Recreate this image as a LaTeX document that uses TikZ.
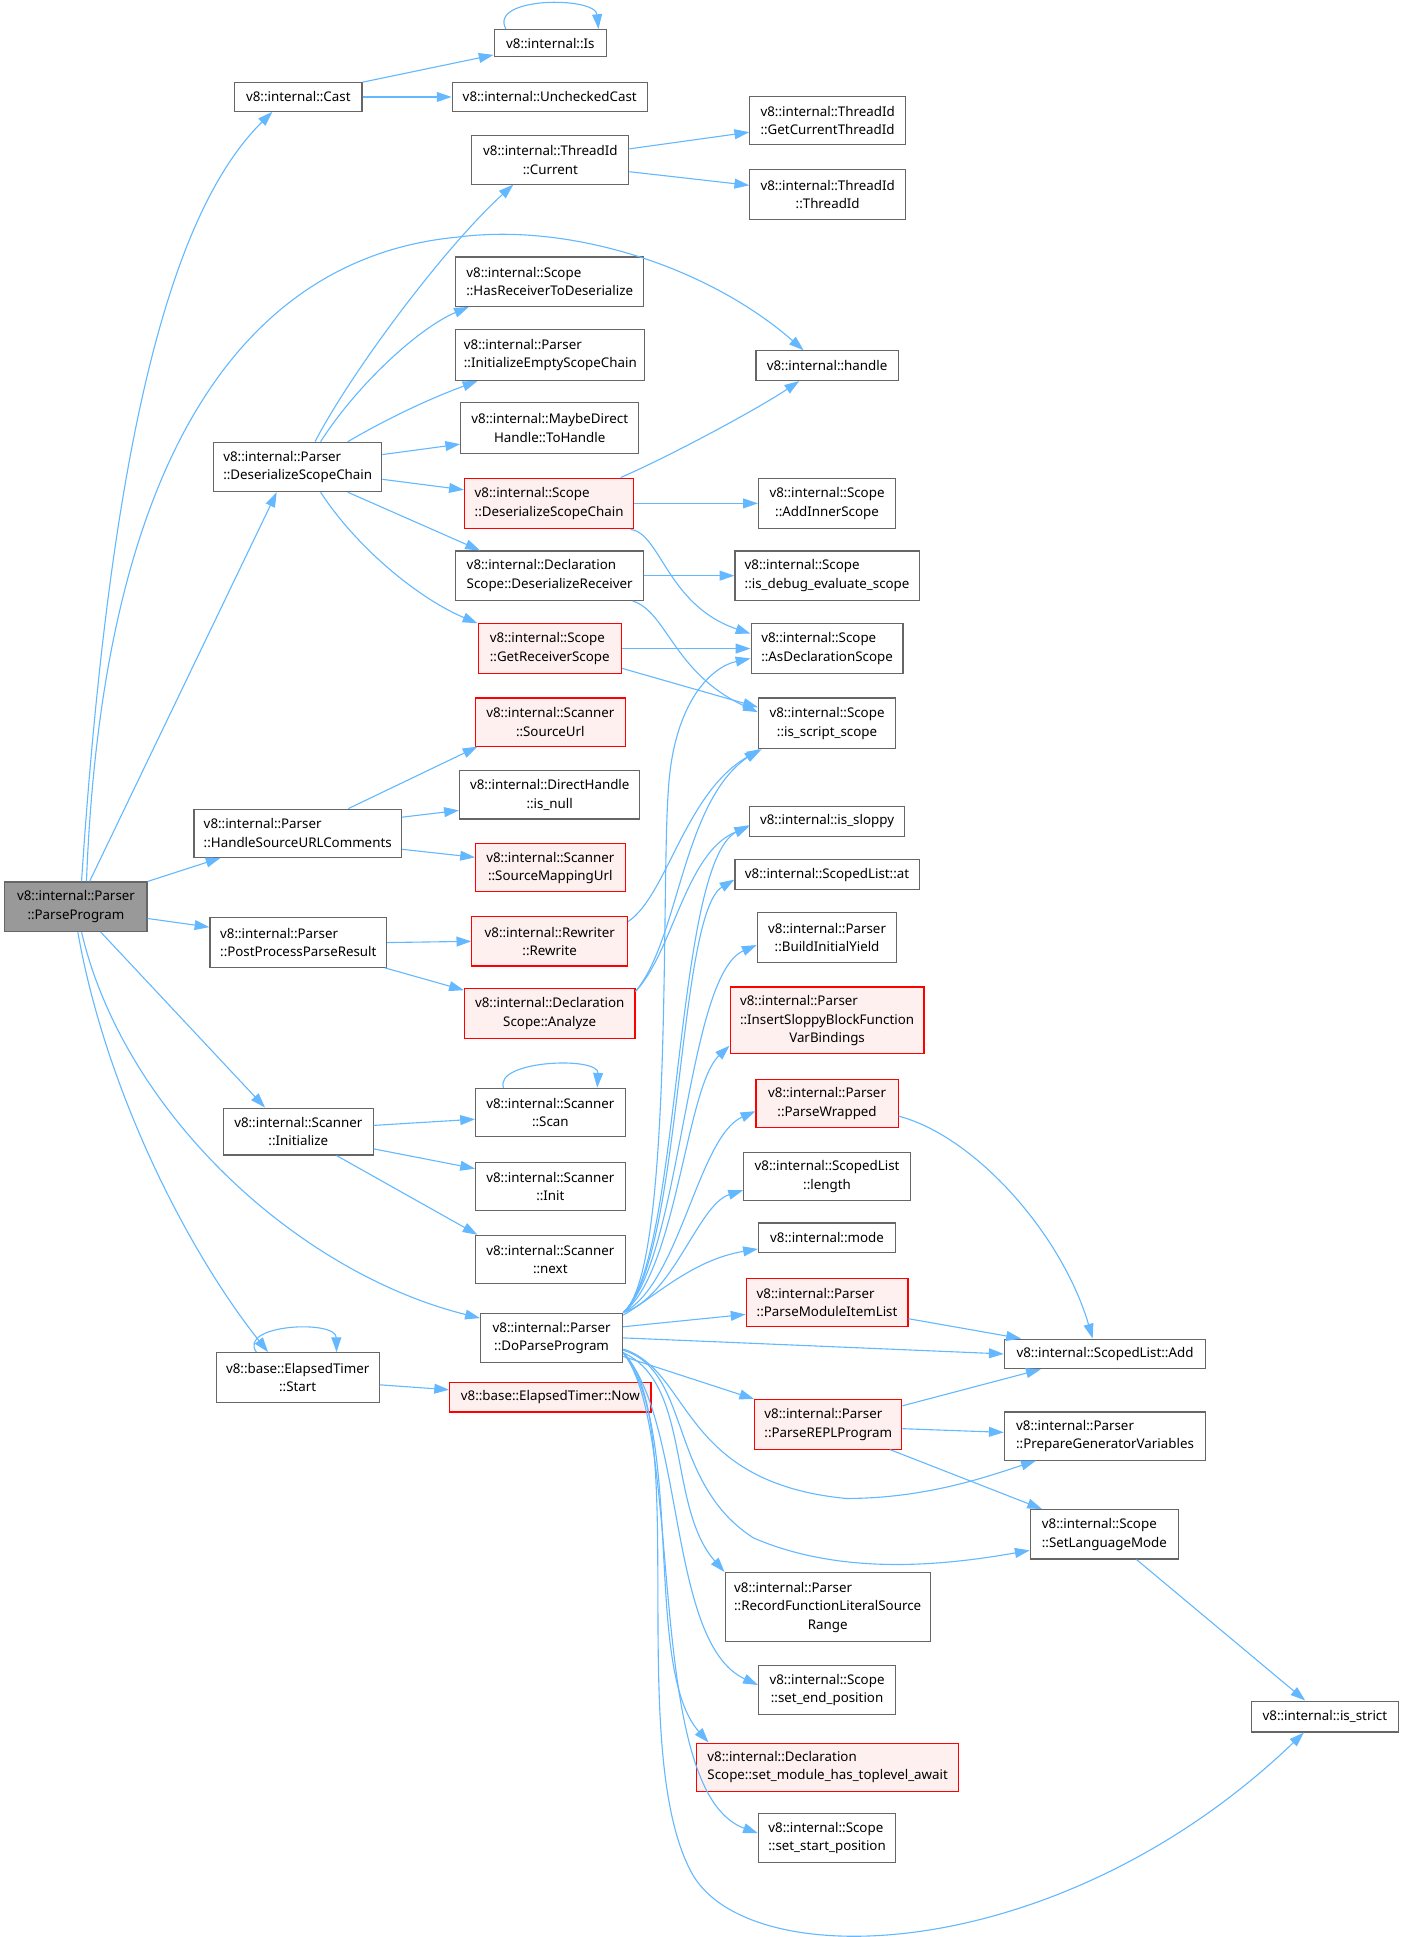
\documentclass[tikz,border=0pt]{standalone}
\usepackage{fontspec}
\setmainfont{Noto Sans}
\usepackage{tikz}
\usetikzlibrary{arrows.meta, positioning, calc}
\definecolor{dxedge}{RGB}{99, 184, 255}
\definecolor{dxframe}{RGB}{102, 102, 102}
\definecolor{dxred}{RGB}{255, 0, 0}
\definecolor{dxpink}{RGB}{255, 240, 240}
\definecolor{dxroot}{RGB}{153, 153, 153}
\newcommand{\tripleline}[3]{\begin{tabular}{@{}l@{}}#1\\#2\\\multicolumn{1}{@{}c@{}}{#3}\end{tabular}}

\begin{document}
\begin{tikzpicture}[
    x=1pt, y=-1pt,
    sz/.style 2 args={minimum width=#1pt, minimum height=#2pt},
    fn/.style={draw=dxframe, fill=white, line width=0.9pt, inner sep=0pt, align=center, font=\fontsize{10.8}{15}\selectfont},
    fnl/.style={fn, align=left},
    fnred/.style={fn, draw=dxred, fill=dxpink},
    fnredl/.style={fnred, align=left},
    fnroot/.style={fn, fill=dxroot},
    calls/.style={draw=dxedge, line width=0.9pt, -{Triangle[length=12pt,width=8pt]}},
]
    \useasboundingbox (0,0) rectangle (1137,1568);

    % Root
    \node[fnroot, sz={115}{40}] (pp) at (61.5,734) {v8::internal::Parser\\::ParseProgram};

    % Column 2: direct callees
    \node[fn, sz={103}{23}] (cast) at (241.5,78.5) {v8::internal::Cast};
    \node[fnl, sz={136}{40}] (pdsc) at (241,378) {v8::internal::Parser\\::DeserializeScopeChain};
    \node[fnl, sz={168}{39}] (hsurl) at (241,674.5) {v8::internal::Parser\\::HandleSourceURLComments};
    \node[fnl, sz={143}{40}] (ppr) at (241.5,763) {v8::internal::Parser\\::PostProcessParseResult};
    \node[fn, sz={121}{38}] (sinit) at (241.5,916) {v8::internal::Scanner\\::Initialize};
    \node[fn, sz={132}{40}] (start) at (241,1115) {v8::base::ElapsedTimer\\::Start};

    % Column 3
    \node[fn, sz={91}{22}] (is) at (445.5,35) {v8::internal::Is};
    \node[fn, sz={158}{23}] (ucast) at (445,78.5) {v8::internal::UncheckedCast};
    \node[fn, sz={127}{39}] (tcur) at (445.5,129.5) {v8::internal::ThreadId\\::Current};
    \node[fnl, sz={152}{40}] (hasrecv) at (445,228) {v8::internal::Scope\\::HasReceiverToDeserialize};
    \node[fnl, sz={153}{41}] (initempty) at (445.5,287.5) {v8::internal::Parser\\::InitializeEmptyScopeChain};
    \node[fn, sz={144}{41}] (tohandle) at (445,346.5) {v8::internal::MaybeDirect\\Handle::ToHandle};
    \node[fnredl, sz={137}{41}] (sdsc) at (444.5,407.5) {v8::internal::Scope\\::DeserializeScopeChain};
    \node[fnl, sz={152}{40}] (dsrecv) at (445,466) {v8::internal::Declaration\\Scope::DeserializeReceiver};
    \node[fnredl, sz={116}{40}] (getrecv) at (445,525) {v8::internal::Scope\\::GetReceiverScope};
    \node[fnred, sz={121}{39}] (srcurl) at (445.5,584.5) {v8::internal::Scanner\\::SourceUrl};
    \node[fn, sz={146}{39}] (isnull) at (445,643.5) {v8::internal::DirectHandle\\::is\_null};
    \node[fnred, sz={121}{39}] (srcmap) at (445.5,702.5) {v8::internal::Scanner\\::SourceMappingUrl};
    \node[fnred, sz={126}{40}] (rewrite) at (445,762) {v8::internal::Rewriter\\::Rewrite};
    \node[fnred, sz={138}{41}] (analyze) at (445,820.5) {v8::internal::Declaration\\Scope::Analyze};
    \node[fn, sz={121}{39}] (scan) at (445.5,900.5) {v8::internal::Scanner\\::Scan};
    \node[fn, sz={121}{39}] (init) at (445.5,960.5) {v8::internal::Scanner\\::Init};
    \node[fn, sz={121}{39}] (next) at (445.5,1019.5) {v8::internal::Scanner\\::next};
    \node[fn, sz={115}{40}] (dpp) at (446.5,1083) {v8::internal::Parser\\::DoParseProgram};
    \node[fnred, sz={163}{24}] (now) at (445.5,1131) {v8::base::ElapsedTimer::Now};

    % Column 4
    \node[fnl, sz={126}{39}] (tget) at (670,97.5) {v8::internal::ThreadId\\::GetCurrentThreadId};
    \node[fn, sz={126}{40}] (tid) at (670,157.5) {v8::internal::ThreadId\\::ThreadId};
    \node[fn, sz={115}{24}] (handle) at (669.5,296) {v8::internal::handle};
    \node[fn, sz={111}{41}] (addinner) at (669.5,407.5) {v8::internal::Scope\\::AddInnerScope};
    \node[fnl, sz={149}{40}] (isdebug) at (669.5,466) {v8::internal::Scope\\::is\_debug\_evaluate\_scope};
    \node[fnl, sz={123}{40}] (asdecl) at (669.5,525) {v8::internal::Scope\\::AsDeclarationScope};
    \node[fn, sz={111}{41}] (isscript) at (669.5,585.5) {v8::internal::Scope\\::is\_script\_scope};
    \node[fn, sz={125}{24}] (issloppy) at (669.5,665) {v8::internal::is\_sloppy};
    \node[fn, sz={149}{24}] (slat) at (669.5,708) {v8::internal::ScopedList::at};
    \node[fn, sz={113}{40}] (yield) at (669.5,759) {v8::internal::Parser\\::BuildInitialYield};
    \node[fnred, sz={157}{54}] (insert) at (669.5,826) {\tripleline{v8::internal::Parser}{::InsertSloppyBlockFunction}{VarBindings}};
    \node[fnred, sz={115}{39}] (pwrap) at (669.5,893.5) {v8::internal::Parser\\::ParseWrapped};
    \node[fn, sz={135}{39}] (length) at (669.5,952.5) {v8::internal::ScopedList\\::length};
    \node[fn, sz={111}{24}] (mode) at (669.5,1002) {v8::internal::mode};
    \node[fnredl, sz={131}{39}] (pmod) at (669.5,1054.5) {v8::internal::Parser\\::ParseModuleItemList};
    \node[fnredl, sz={119}{40}] (repl) at (670.5,1153) {v8::internal::Parser\\::ParseREPLProgram};
    \node[fn, sz={166}{56}] (record) at (670,1301) {\tripleline{v8::internal::Parser}{::RecordFunctionLiteralSource}{Range}};
    \node[fn, sz={111}{40}] (setend) at (669.5,1368) {v8::internal::Scope\\::set\_end\_position};
    \node[fnredl, sz={212}{39}] (toplevel) at (670,1430.5) {v8::internal::Declaration\\Scope::set\_module\_has\_toplevel\_await};
    \node[fnl, sz={111}{40}] (setstart) at (669.5,1488) {v8::internal::Scope\\::set\_start\_position};

    % Column 5 and 6
    \node[fn, sz={163}{24}] (add) at (894.5,1096) {v8::internal::ScopedList::Add};
    \node[fnl, sz={163}{39}] (prepgen) at (894.5,1162.5) {v8::internal::Parser\\::PrepareGeneratorVariables};
    \node[fnl, sz={120}{40}] (setlang) at (894,1242) {v8::internal::Scope\\::SetLanguageMode};
    \node[fn, sz={119}{25}] (strict) at (1072.5,1389.5) {v8::internal::is\_strict};

    % ParseProgram
    \draw[calls] ($(pp.north)+(4.5,0)$) .. controls (90,350) and (140,170) .. ($(cast.south)+(-21,0)$);
    \draw[calls] ($(pp.north)+(8.5,0)$) .. controls (85,320) and (230,205) .. (370,192) .. controls (460,180) and (572,215) .. ($(handle.north)+(-19,0)$);
    \draw[calls] ($(pp.north)+(11,0)$) -- ($(pdsc.south)+(-17,0)$);
    \draw[calls] (pp.north east) -- ($(hsurl.south west)+(22,0)$);
    \draw[calls] ($(pp.east)+(0,9.5)$) -- ($(ppr.west)+(0,-12.5)$);
    \draw[calls] ($(pp.south)+(20,0)$) -- ($(sinit.north west)+(34,0)$);
    \draw[calls] ($(pp.south)+(4.5,0)$) .. controls (100,900) and (240,1030) .. ($(dpp.west)+(0,-16)$);
    \draw[calls] ($(pp.south)+(1.5,0)$) .. controls (85,880) and (150,1010) .. ($(start.north)+(-24,0)$);

    % Cast
    \draw[calls] (cast.north east) -- ($(is.south west)+(0,-2)$);
    \draw[calls] (cast.east) -- (ucast.west);
    \draw[calls] ($(is.north west)+(10,0)$) .. controls (395,-3) and (482,-3) .. ($(is.north east)+(-7,0)$);

    % ThreadId
    \draw[calls] ($(tcur.east)+(0,-9)$) -- ($(tget.west)+(0,9.5)$);
    \draw[calls] ($(tcur.east)+(0,9.5)$) -- ($(tid.west)+(0,-7.5)$);

    % Parser::DeserializeScopeChain
    \draw[calls] ($(pdsc.north)+(14,0)$) .. controls (285,300) and (360,200) .. ($(tcur.south)+(-30,0)$);
    \draw[calls] ($(pdsc.north)+(18.5,0)$) .. controls (290,310) and (340,265) .. ($(hasrecv.south west)+(11,0)$);
    \draw[calls] ($(pdsc.north)+(40.5,0)$) .. controls (320,335) and (355,320) .. ($(initempty.south west)+(18,0)$);
    \draw[calls] ($(pdsc.east)+(0,-10)$) -- ($(tohandle.west)+(0,13)$);
    \draw[calls] ($(pdsc.east)+(0,10)$) -- ($(sdsc.west)+(0,-11)$);
    \draw[calls] ($(pdsc.south)+(40.5,0)$) -- ($(dsrecv.north west)+(20,0)$);
    \draw[calls] ($(pdsc.south)+(18.5,0)$) .. controls (290,445) and (340,485) .. (getrecv.north west);

    % Scope::DeserializeScopeChain
    \draw[calls] ($(sdsc.north east)+(-11,0)$) .. controls (545,368) and (615,330) .. ($(handle.south)+(-22.5,0)$);
    \draw[calls] (sdsc.east) -- (addinner.west);
    \draw[calls] ($(sdsc.south east)+(-3,0)$) .. controls (535,432) and (540,490) .. ($(asdecl.west)+(0,-12)$);

    % DeserializeReceiver, GetReceiverScope
    \draw[calls] (dsrecv.east) -- (isdebug.west);
    \draw[calls] ($(dsrecv.south east)+(-9.5,0)$) .. controls (540,495) and (545,545) .. ($(isscript.west)+(0,-9)$);
    \draw[calls] (getrecv.east) -- (asdecl.west);
    \draw[calls] ($(getrecv.east)+(0,16)$) -- ($(isscript.west)+(0,-13)$);

    % HandleSourceURLComments
    \draw[calls] ($(hsurl.north)+(41,0)$) -- ($(srcurl.south west)+(2,0)$);
    \draw[calls] ($(hsurl.east)+(0,-13)$) -- ($(isnull.west)+(0,12.5)$);
    \draw[calls] ($(hsurl.east)+(0,13)$) -- ($(srcmap.west)+(0,-8.5)$);

    % PostProcessParseResult
    \draw[calls] (ppr.east) -- (rewrite.west);
    \draw[calls] ($(ppr.south east)+(-2,0)$) -- ($(analyze.north west)+(0,2)$);
    \draw[calls] ($(rewrite.east)+(0,-16)$) .. controls (540,725) and (555,640) .. ($(isscript.south west)+(3,0)$);
    \draw[calls] ($(analyze.north east)+(0,3)$) .. controls (545,770) and (555,690) .. ($(issloppy.west)+(0,4)$);
    \draw[calls] ($(analyze.north east)+(0,3)$) .. controls (550,760) and (552,650) .. ($(isscript.south west)+(1,0)$);

    % DoParseProgram, upwards
    \draw[calls] (dpp.north east) .. controls (545,1030) and (535,720) .. (541,640) .. controls (545,570) and (575,540) .. ($(asdecl.west)+(0,8)$);
    \draw[calls] (dpp.north east) .. controls (552,1020) and (545,700) .. ($(issloppy.west)+(0,3)$);
    \draw[calls] (dpp.north east) .. controls (552,1020) and (548,740) .. ($(slat.west)+(0,4)$);
    \draw[calls] (dpp.north east) .. controls (552,1020) and (555,790) .. ($(yield.west)+(0,6)$);
    \draw[calls] (dpp.north east) .. controls (548,1030) and (555,880) .. ($(insert.south west)+(0,-7)$);
    \draw[calls] (dpp.north east) .. controls (550,1040) and (565,920) .. ($(pwrap.west)+(0,6)$);
    \draw[calls] (dpp.north east) .. controls (545,1050) and (565,975) .. ($(length.west)+(0,11)$);
    \draw[calls] ($(dpp.north east)+(0,2)$) .. controls (530,1050) and (560,1020) .. ($(mode.west)+(0,9)$);
    \draw[calls] ($(dpp.east)+(0,-9)$) -- ($(pmod.west)+(0,9.5)$);
    \draw[calls] (dpp.east) -- (add.west);
    \draw[calls] ($(dpp.east)+(0,15)$) -- (repl.north west);

    % DoParseProgram, downwards
    \draw[calls] ($(dpp.east)+(0,9)$) .. controls (560,1110) and (550,1200) .. (685,1213) .. controls (750,1213) and (800,1195) .. ($(prepgen.south west)+(26,0)$);
    \draw[calls] ($(dpp.east)+(0,10)$) .. controls (560,1110) and (540,1200) .. (610,1245) .. controls (680,1275) and (760,1268) .. ($(setlang.west)+(0,13)$);
    \draw[calls] ($(dpp.east)+(0,12)$) .. controls (560,1120) and (540,1220) .. (record.north west);
    \draw[calls] ($(dpp.east)+(0,12)$) .. controls (555,1150) and (540,1330) .. ($(setend.west)+(0,-4)$);
    \draw[calls] ($(dpp.east)+(0,12)$) .. controls (555,1160) and (520,1350) .. ($(toplevel.north west)+(10,0)$);
    \draw[calls] ($(dpp.east)+(0,12)$) .. controls (555,1160) and (520,1450) .. ($(setstart.west)+(0,-4)$);
    \draw[calls] ($(dpp.east)+(0,12)$) .. controls (560,1150) and (505,1420) .. (561,1518) .. controls (610,1600) and (860,1590) .. ($(strict.south)+(-17,0)$);

    % Into ScopedList::Add and friends
    \draw[calls] ($(pwrap.east)+(0,10)$) .. controls (790,920) and (860,1000) .. ($(add.north)+(-10,0)$);
    \draw[calls] ($(pmod.east)+(0,13)$) -- ($(add.north west)+(14,0)$);
    \draw[calls] ($(repl.east)+(0,-15)$) -- ($(add.south west)+(30,0)$);
    \draw[calls] ($(repl.east)+(0,3.5)$) -- ($(prepgen.west)+(0,-3)$);
    \draw[calls] ($(repl.south east)+(-10,0)$) -- ($(setlang.north west)+(10,0)$);
    \draw[calls] ($(setlang.south)+(26,0)$) -- ($(strict.north west)+(44,0)$);

    % Scanner
    \draw[calls] ($(sinit.east)+(0,-5)$) -- ($(scan.west)+(0,5.5)$);
    \draw[calls] ($(sinit.east)+(0,14)$) -- ($(init.west)+(0,-14.5)$);
    \draw[calls] ($(sinit.south)+(31,0)$) -- ($(next.north west)+(2,0)$);
    \draw[calls] ($(scan.north west)+(23,0)$) .. controls (400,858) and (485,855) .. ($(scan.north east)+(-23,0)$);

    % ElapsedTimer
    \draw[calls] ($(start.north west)+(33,0)$) .. controls (192,1072) and (272,1068) .. ($(start.north east)+(-35,0)$);
    \draw[calls] ($(start.east)+(0,6)$) -- ($(now.west)+(0,-6)$);
\end{tikzpicture}
\end{document}
